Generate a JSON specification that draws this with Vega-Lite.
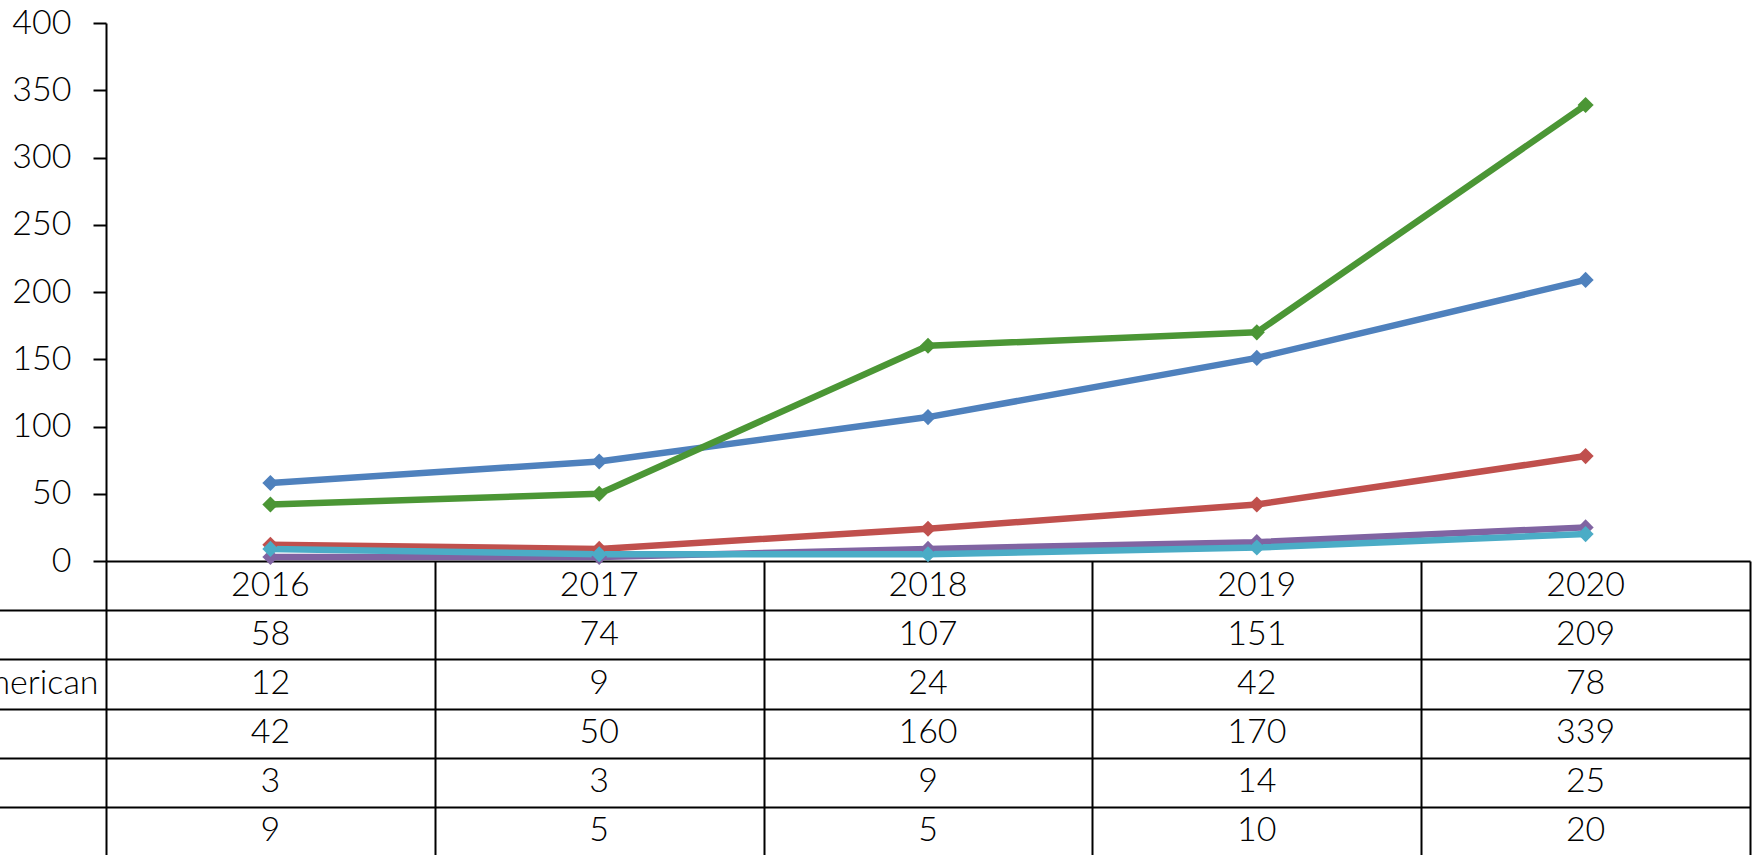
{
  "$schema": "https://vega.github.io/schema/vega-lite/v6.json",
  "width": 1644,
  "height": 832,
  "autosize": "none",
  "padding": {"left": 106, "top": 23, "right": 2, "bottom": 0},
  "background": "white",
  "config": {
    "view": {"stroke": null},
    "font": "Lato",
    "text": {"font": "Lato"}
  },
  "datasets": {
    "series": [
      {"series": "White", "year": "2016", "value": 58},
      {"series": "White", "year": "2017", "value": 74},
      {"series": "White", "year": "2018", "value": 107},
      {"series": "White", "year": "2019", "value": 151},
      {"series": "White", "year": "2020", "value": 209},
      {"series": "African American", "year": "2016", "value": 12},
      {"series": "African American", "year": "2017", "value": 9},
      {"series": "African American", "year": "2018", "value": 24},
      {"series": "African American", "year": "2019", "value": 42},
      {"series": "African American", "year": "2020", "value": 78},
      {"series": "Hispanic", "year": "2016", "value": 42},
      {"series": "Hispanic", "year": "2017", "value": 50},
      {"series": "Hispanic", "year": "2018", "value": 160},
      {"series": "Hispanic", "year": "2019", "value": 170},
      {"series": "Hispanic", "year": "2020", "value": 339},
      {"series": "Asian", "year": "2016", "value": 3},
      {"series": "Asian", "year": "2017", "value": 3},
      {"series": "Asian", "year": "2018", "value": 9},
      {"series": "Asian", "year": "2019", "value": 14},
      {"series": "Asian", "year": "2020", "value": 25},
      {"series": "Other", "year": "2016", "value": 9},
      {"series": "Other", "year": "2017", "value": 5},
      {"series": "Other", "year": "2018", "value": 5},
      {"series": "Other", "year": "2019", "value": 10},
      {"series": "Other", "year": "2020", "value": 20}
    ],
    "years": [
      {"year": "2016"}, {"year": "2017"}, {"year": "2018"}, {"year": "2019"}, {"year": "2020"}
    ]
  },
  "layer": [
    {
      "data": {"name": "series"},
      "layer": [
        {
          "mark": {"type": "line", "strokeWidth": 6.5, "strokeJoin": "round", "strokeCap": "round"},
          "encoding": {
            "x": {
              "field": "year", "type": "ordinal",
              "scale": {"type": "band", "paddingInner": 0, "paddingOuter": 0},
              "axis": {
                "orient": "bottom", "title": null, "labels": false, "domain": false,
                "ticks": true, "tickBand": "extent", "tickSize": -294,
                "tickColor": "black", "tickWidth": 2, "grid": false
              }
            },
            "y": {
              "field": "value", "type": "quantitative",
              "scale": {"domain": [0, 400], "range": [538, 0], "nice": false, "zero": true},
              "axis": {
                "orient": "left", "title": null, "values": [0, 50, 100, 150, 200, 250, 300, 350, 400],
                "domain": true, "domainColor": "black", "domainWidth": 2,
                "ticks": true, "tickSize": 13, "tickColor": "black", "tickWidth": 2,
                "grid": false, "labelFontSize": 34, "labelPadding": 22, "labelColor": "black",
                "labelFont": "Lato", "labelFontWeight": 300
              }
            },
            "color": {
              "field": "series", "type": "nominal",
              "scale": {
                "domain": ["White", "African American", "Hispanic", "Asian", "Other"],
                "range": ["#4F81BD", "#C0504D", "#4B9635", "#8064A2", "#4BACC6"]
              },
              "legend": null
            }
          }
        },
        {
          "mark": {"type": "point", "shape": "diamond", "filled": true, "size": 260, "opacity": 1},
          "encoding": {
            "x": {"field": "year", "type": "ordinal"},
            "y": {"field": "value", "type": "quantitative"},
            "color": {"field": "series", "type": "nominal"}
          }
        }
      ]
    },
    {
      "layer": [
        {
          "data": {"name": "series"},
          "mark": {"type": "text", "fontSize": 34, "fontWeight": 300, "color": "black", "align": "center", "baseline": "middle"},
          "encoding": {
            "x": {"field": "year", "type": "ordinal"},
            "y": {
              "field": "series", "type": "nominal",
              "scale": {
                "type": "band",
                "domain": ["Year", "White", "African American", "Hispanic", "Asian", "Other"],
                "range": [538, 833], "paddingInner": 0, "paddingOuter": 0
              },
              "axis": {
                "orient": "left", "title": null, "domain": false,
                "tickBand": "extent", "ticks": true, "tickSize": 120, "tickWidth": 2,
                "tickColor": {"condition": {"test": "datum.extra", "value": "transparent"}, "value": "black"},
                "grid": true, "gridColor": "black", "gridWidth": 2, "gridOpacity": 1,
                "labelAlign": "left", "labelPadding": 138, "labelFontSize": 34, "labelColor": "black",
                "labelLimit": 2000, "labelFont": "Lato", "labelFontWeight": 300,
                "labelExpr": "datum.value == 'Year' ? '' : datum.value"
              }
            },
            "text": {"field": "value", "type": "quantitative"}
          }
        },
        {
          "data": {"name": "years"},
          "mark": {"type": "text", "fontSize": 34, "fontWeight": 300, "color": "black", "align": "center", "baseline": "middle"},
          "encoding": {
            "x": {"field": "year", "type": "ordinal"},
            "y": {"datum": "Year", "type": "nominal"},
            "text": {"field": "year", "type": "nominal"}
          }
        }
      ]
    }
  ],
  "resolve": {"scale": {"y": "independent"}, "axis": {"y": "independent"}}
}
